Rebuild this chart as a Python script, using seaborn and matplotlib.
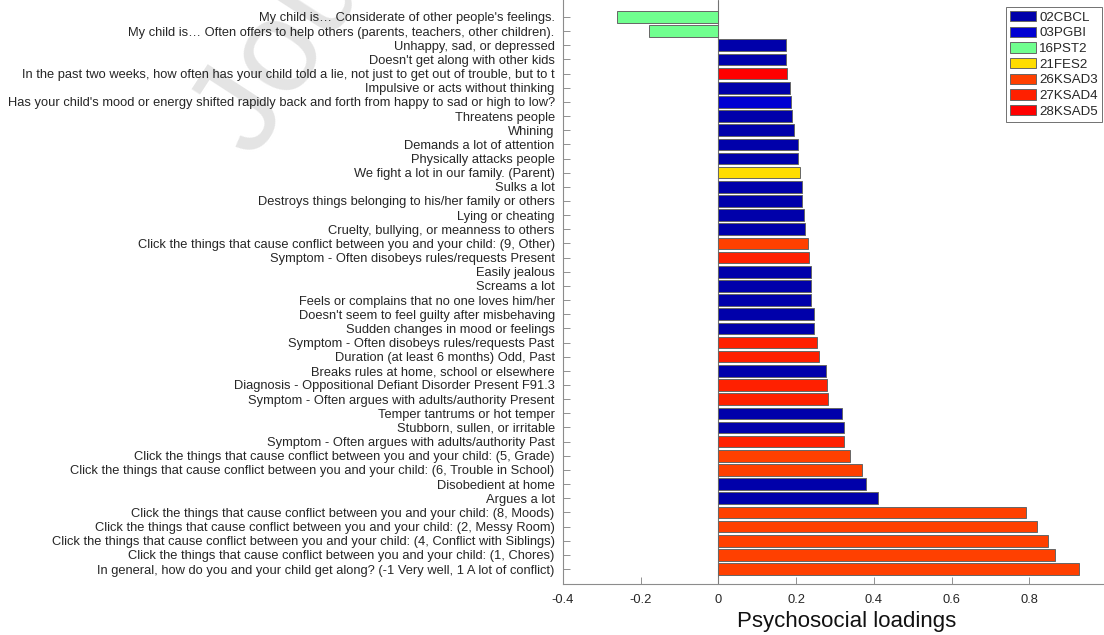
import matplotlib
matplotlib.use("Agg")
import matplotlib.pyplot as plt
from matplotlib.ticker import FormatStrFormatter
import pandas as pd
import seaborn as sns

items = [
    "My child is\u2026 Considerate of other people's feelings.",
    "My child is\u2026 Often offers to help others (parents, teachers, other children).",
    "Unhappy, sad, or depressed",
    "Doesn't get along with other kids",
    "In the past two weeks, how often has your child told a lie, not just to get out of trouble, but to t",
    "Impulsive or acts without thinking",
    "Has your child's mood or energy shifted rapidly back and forth from happy to sad or high to low?",
    "Threatens people",
    "Whining",
    "Demands a lot of attention",
    "Physically attacks people",
    "We fight a lot in our family. (Parent)",
    "Sulks a lot",
    "Destroys things belonging to his/her family or others",
    "Lying or cheating",
    "Cruelty, bullying, or meanness to others",
    "Click the things that cause conflict between you and your child: (9, Other)",
    "Symptom - Often disobeys rules/requests Present",
    "Easily jealous",
    "Screams a lot",
    "Feels or complains that no one loves him/her",
    "Doesn't seem to feel guilty after misbehaving",
    "Sudden changes in mood or feelings",
    "Symptom - Often disobeys rules/requests Past",
    "Duration (at least 6 months) Odd, Past",
    "Breaks rules at home, school or elsewhere",
    "Diagnosis - Oppositional Defiant Disorder Present F91.3",
    "Symptom - Often argues with adults/authority Present",
    "Temper tantrums or hot temper",
    "Stubborn, sullen, or irritable",
    "Symptom - Often argues with adults/authority Past",
    "Click the things that cause conflict between you and your child: (5, Grade)",
    "Click the things that cause conflict between you and your child: (6, Trouble in School)",
    "Disobedient at home",
    "Argues a lot",
    "Click the things that cause conflict between you and your child: (8, Moods)",
    "Click the things that cause conflict between you and your child: (2, Messy Room)",
    "Click the things that cause conflict between you and your child: (4, Conflict with Siblings)",
    "Click the things that cause conflict between you and your child: (1, Chores)",
    "In general, how do you and your child get along? (-1 Very well, 1 A lot of conflict)",
]

loadings = [
    -0.262, -0.180, 0.174, 0.174, 0.176, 0.183, 0.187, 0.190, 0.195, 0.204,
    0.205, 0.211, 0.216, 0.216, 0.219, 0.223, 0.231, 0.233, 0.237, 0.237,
    0.238, 0.246, 0.247, 0.254, 0.259, 0.276, 0.278, 0.281, 0.318, 0.322,
    0.322, 0.338, 0.369, 0.380, 0.411, 0.791, 0.819, 0.847, 0.866, 0.928,
]

sources = [
    "16PST2", "16PST2", "02CBCL", "02CBCL", "28KSAD5", "02CBCL", "03PGBI", "02CBCL",
    "02CBCL", "02CBCL", "02CBCL", "21FES2", "02CBCL", "02CBCL", "02CBCL", "02CBCL",
    "26KSAD3", "27KSAD4", "02CBCL", "02CBCL", "02CBCL", "02CBCL", "02CBCL", "27KSAD4",
    "27KSAD4", "02CBCL", "27KSAD4", "27KSAD4", "02CBCL", "02CBCL", "27KSAD4", "26KSAD3",
    "26KSAD3", "02CBCL", "02CBCL", "26KSAD3", "26KSAD3", "26KSAD3", "26KSAD3", "26KSAD3",
]

source_order = ["02CBCL", "03PGBI", "16PST2", "21FES2", "26KSAD3", "27KSAD4", "28KSAD5"]
source_colors = ["#0000aa", "#0000d2", "#70ff8f", "#ffdd00", "#ff4000", "#ff2000", "#ff0000"]

df = pd.DataFrame({"item": items, "loading": loadings, "source": sources})

sns.set_style("white")
plt.rcParams["font.family"] = ["Liberation Sans", "DejaVu Sans"]
plt.rcParams["axes.unicode_minus"] = False

fig = plt.figure(figsize=(11.04, 6.35), dpi=100)
ax = fig.add_axes([0.51, 0.0803, 0.49, 0.9197])

# watermark
fig.text(0.23, 0.748, "Journal Pre-proof", rotation=57, rotation_mode="anchor",
         fontsize=95, color="#e4e4e4", ha="left", va="baseline", zorder=-5)

sns.barplot(data=df, x="loading", y="item", hue="source", hue_order=source_order,
            palette=dict(zip(source_order, source_colors)), order=items,
            dodge=False, orient="h", width=0.82, errorbar=None, saturation=1,
            edgecolor="0.4", linewidth=0.7, ax=ax)

ax.axvline(0, color="0.45", lw=0.8, zorder=0.5)

ax.set_xlim(-0.4, 0.992)
ax.set_ylim(40.06, -1.2)
ax.set_xticks([-0.4, -0.2, 0, 0.2, 0.4, 0.6, 0.8])
ax.xaxis.set_major_formatter(FormatStrFormatter("%g"))
ax.set_ylabel("")
ax.set_xlabel("Psychosocial loadings", fontsize=16, color="#111111", labelpad=4)
ax.xaxis.label.set_x(0.525)
ax.tick_params(axis="both", direction="in", length=5, width=0.6, color="0.5",
               labelsize=9.3, labelcolor="#262626", left=True, bottom=True)
ax.tick_params(axis="y", pad=6)
ax.tick_params(axis="x", pad=7)
for side in ["top", "right"]:
    ax.spines[side].set_visible(False)
for side in ["left", "bottom"]:
    ax.spines[side].set_color("0.55")
    ax.spines[side].set_linewidth(0.8)

leg = ax.legend(loc="upper right", bbox_to_anchor=(0.998, 0.989),
                bbox_transform=fig.transFigure, borderaxespad=0, fontsize=9.6,
                frameon=True, fancybox=False, handlelength=2.0, handleheight=0.8,
                handletextpad=0.2, labelspacing=0.22, borderpad=0.3)
leg.get_frame().set_edgecolor("0.3")
leg.get_frame().set_linewidth(0.7)

fig.savefig("out.png", dpi=100)
